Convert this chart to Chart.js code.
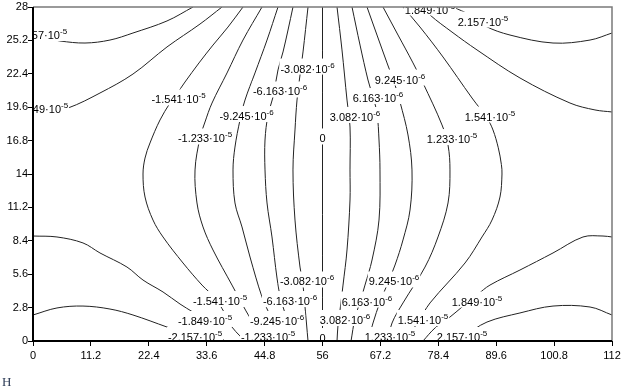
<!DOCTYPE html>
<html>
<head>
<meta charset="utf-8">
<script src="https://cdn.jsdelivr.net/npm/chart.js@4.4.1/dist/chart.umd.min.js"></script>
<style>
  body { margin: 0; background: #fff; }
  canvas { display: block; }
</style>
</head>
<body>
<canvas id="contour" width="624" height="390"></canvas>
<script>
  // Axis ticks
  const xTickValues = [0, 11.2, 22.4, 33.6, 44.8, 56, 67.2, 78.4, 89.6, 100.8, 112];
  const xTickLabels = ["0", "11.2", "22.4", "33.6", "44.8", "56", "67.2", "78.4", "89.6", "100.8", "112"];
  const yTickValues = [0, 2.8, 5.6, 8.4, 11.2, 14, 16.8, 19.6, 22.4, 25.2, 28];
  const yTickLabels = ["0", "2.8", "5.6", "8.4", "11.2", "14", "16.8", "19.6", "22.4", "25.2", "28"];

  // Isolines as [x, y] pairs
  const negLevel2157Top = [[0, 25.57], [2.32, 25.40], [5.22, 25.15], [10.06, 24.98], [14.89, 25.23], [19.34, 25.82], [25.92, 26.83], [30.95, 28]];
  const negLevel2157Bottom = [[0, 2.18], [4.64, 2.77], [9.67, 2.93], [14.89, 2.68], [19.34, 2.18], [25.92, 1.17], [31.34, 0.34], [33.27, 0]];
  const negLevel1849Top = [[0, 19.2], [3.29, 19.28], [6.77, 19.53], [12.96, 20.79], [19.34, 22.38], [25.92, 24.65], [32.30, 26.57], [36.56, 28]];
  const negLevel1849Bottom = [[0, 8.80], [4.64, 8.72], [9.67, 8.22], [12.96, 7.38], [18.18, 6.20], [21.28, 5.11], [25.15, 4.11], [28.44, 3.10], [33.27, 1.76], [35.79, 0.75], [36.95, 0]];
  const negLevel1541 = [[40.62, 28], [37.72, 26.32], [34.82, 24.81], [32.11, 23.31], [29.40, 21.71], [27.66, 20.62], [26.50, 19.95], [24.57, 18.53], [22.63, 16.60], [21.67, 15.34], [21.28, 14.0], [21.67, 12.07], [23.21, 10.14], [25.15, 8.72], [29.02, 6.54], [32.69, 4.69], [35.21, 3.60], [36.95, 2.43], [38.49, 1.17], [40.04, 0.42], [40.82, 0]];
  const negLevel1233 = [[44.30, 28], [40.62, 25.23], [37.53, 22.47], [34.63, 19.95], [33.27, 18.36], [32.30, 17.02], [31.34, 14.34], [31.72, 11.57], [32.89, 9.56], [34.82, 7.63], [38.49, 4.69], [40.04, 3.44], [41.20, 2.52], [42.36, 1.59], [43.52, 0]];
  const negLevel9245 = [[47.39, 28], [45.27, 25.23], [42.94, 22.47], [41.01, 20.20], [40.04, 18.53], [39.07, 16.26], [38.69, 14.34], [39.07, 11.57], [40.43, 9.56], [41.98, 7.04], [44.30, 3.69], [46.04, 1.93], [47.58, 0]];
  const negLevel6163 = [[50.29, 28], [49.33, 26.07], [48.36, 24.23], [47.39, 22.72], [46.43, 20.45], [45.46, 18.95], [44.88, 16.85], [44.88, 14.34], [45.27, 11.57], [46.23, 8.72], [47.20, 5.28], [47.97, 3.44], [49.33, 1.59], [50.49, 0]];
  const negLevel3082 = [[53.20, 28], [52.23, 24.23], [51.65, 22.30], [51.07, 20.20], [50.68, 17.69], [50.29, 14.34], [50.68, 10.14], [51.65, 6.20], [52.23, 4.69], [52.62, 2.85], [53.20, 0]];
  const zeroLevel = [[56, 28], [56, 0]];
  const posLevel3082 = [[58.81, 28], [59.77, 24.40], [60.74, 20.20], [61.32, 17.94], [61.32, 14.34], [61.32, 11.82], [60.74, 7.63], [59.97, 4.69], [59.39, 2.60], [59.00, 1.34], [58.81, 0]];
  const posLevel6163 = [[61.71, 28], [63.26, 24.81], [64.80, 21.88], [65.77, 20.45], [66.54, 19.11], [66.93, 16.85], [67.12, 14.34], [66.93, 10.14], [65.58, 6.79], [64.22, 4.69], [63.26, 3.27], [62.29, 1.93], [61.52, 0]];
  const posLevel9245 = [[64.61, 28], [66.54, 25.65], [68.48, 23.31], [70.03, 21.46], [70.99, 20.04], [72.54, 17.27], [73.31, 14.34], [72.93, 10.98], [71.57, 8.47], [70.03, 6.37], [68.48, 4.69], [67.12, 3.27], [65.77, 1.51], [64.80, 0]];
  const posLevel1233 = [[67.70, 28], [70.61, 25.65], [73.51, 23.31], [75.44, 21.63], [79.12, 18.11], [80.28, 16.43], [80.66, 14.34], [80.28, 11.57], [78.34, 8.72], [75.83, 6.20], [71.57, 3.19], [69.45, 1.51], [68.67, 0]];
  const posLevel1541 = [[71.57, 28], [74.86, 26.32], [79.31, 23.81], [84.92, 20.37], [87.82, 18.69], [88.98, 17.69], [90.0, 16.2], [90.6, 14.8], [90.72, 14.0], [90.33, 12.07], [88.79, 10.14], [86.85, 8.72], [83.57, 6.54], [76.80, 3.19], [74.48, 1.59], [71.96, 0]];
  const posLevel1849Top = [[75.64, 28], [76.80, 27.33], [81.05, 25.90], [85.89, 24.40], [94.20, 22.05], [103.87, 19.95], [108.71, 19.37], [112, 19.20]];
  const posLevel1849Bottom = [[112, 8.72], [110.26, 8.80], [106.39, 8.72], [100.59, 7.38], [94.20, 5.95], [88.40, 4.69], [85.89, 3.86], [82.99, 2.85], [80.66, 2.01], [77.76, 1.09], [75.44, 0]];
  const posLevel2157Top = [[81.24, 28], [84.53, 27.33], [87.43, 26.41], [92.27, 25.65], [100.59, 24.98], [107.75, 25.23], [112, 25.82]];
  const posLevel2157Bottom = [[112, 2.18], [107.75, 2.85], [100.59, 2.93], [94.20, 2.35], [87.82, 1.59], [82.99, 0.34], [81.05, 0]];

  const isolines = [
    negLevel2157Top, negLevel2157Bottom, negLevel1849Top, negLevel1849Bottom,
    negLevel1541, negLevel1233, negLevel9245, negLevel6163, negLevel3082,
    zeroLevel,
    posLevel3082, posLevel6163, posLevel9245, posLevel1233, posLevel1541,
    posLevel1849Top, posLevel1849Bottom, posLevel2157Top, posLevel2157Bottom,
  ];

  // Level labels: where they sit, mantissa and power of ten
  const labelX = [1.35, 1.55, 28.15, 33.27, 41.30, 47.78, 53.10, 56.0, 62.29, 66.74, 70.99, 81.05, 88.40, 76.80, 87.05,
                  53.00, 36.17, 49.71, 33.27, 47.20, 31.34, 45.46, 56.0, 69.83, 64.61, 60.35, 75.44, 85.89, 69.06, 82.99];
  const labelY = [25.65, 19.41, 20.25, 16.98, 18.86, 20.92, 22.84, 16.98, 18.78, 20.37, 21.92, 16.93, 18.82, 27.79, 26.78,
                  4.99, 3.35, 3.35, 1.68, 1.68, 0.34, 0.34, 0.25, 4.99, 3.31, 1.76, 1.76, 3.31, 0.34, 0.34];
  const labelText = ["-2.157", "-1.849", "-1.541", "-1.233", "-9.245", "-6.163", "-3.082", "0", "3.082", "6.163", "9.245", "1.233", "1.541", "1.849", "2.157",
                     "-3.082", "-1.541", "-6.163", "-1.849", "-9.245", "-2.157", "-1.233", "0", "9.245", "6.163", "3.082", "1.541", "1.849", "1.233", "2.157"];
  const labelExp = ["-5", "-5", "-5", "-5", "-6", "-6", "-6", "", "-6", "-6", "-6", "-5", "-5", "-5", "-5",
                    "-6", "-5", "-6", "-5", "-6", "-5", "-5", "", "-6", "-6", "-6", "-5", "-5", "-5", "-5"];

  const FONT = "'Liberation Sans', Arial, sans-serif";

  // Labels sit on white boxes that cut the isolines
  const levelLabels = {
    id: "levelLabels",
    afterDatasetsDraw(chart) {
      const { ctx, chartArea, scales } = chart;
      ctx.save();
      ctx.beginPath();
      ctx.rect(chartArea.left, chartArea.top, chartArea.right - chartArea.left, chartArea.bottom - chartArea.top);
      ctx.clip();
      ctx.textAlign = "left";
      ctx.textBaseline = "alphabetic";
      labelX.forEach((lx, i) => {
        const px = scales.x.getPixelForValue(lx);
        const py = scales.y.getPixelForValue(labelY[i]);
        const main = labelExp[i] ? labelText[i] + "\u00b710" : labelText[i];
        ctx.font = "11px " + FONT;
        const w1 = ctx.measureText(main).width;
        ctx.font = "8px " + FONT;
        const w2 = labelExp[i] ? ctx.measureText(labelExp[i]).width : 0;
        const x0 = px - (w1 + w2) / 2;
        const base = py + 4;
        ctx.fillStyle = "#fff";
        ctx.fillRect(x0 - 1, base - 14, w1 + w2 + 2, 16);
        ctx.fillStyle = "#000";
        ctx.font = "11px " + FONT;
        ctx.fillText(main, x0, base);
        if (labelExp[i]) {
          ctx.font = "8px " + FONT;
          ctx.fillText(labelExp[i], x0 + w1, base - 5);
        }
      });
      ctx.restore();
    },
  };

  // Frame: grey top/right, black axes left/bottom, and the little "H" mark
  const frame = {
    id: "frame",
    afterDraw(chart) {
      const { ctx, chartArea: a } = chart;
      ctx.save();
      ctx.strokeStyle = "#7a7a7a";
      ctx.lineWidth = 1.5;
      ctx.beginPath();
      ctx.moveTo(a.left, a.top);
      ctx.lineTo(a.right, a.top);
      ctx.lineTo(a.right, a.bottom);
      ctx.stroke();
      ctx.strokeStyle = "#000";
      ctx.lineWidth = 2;
      ctx.beginPath();
      ctx.moveTo(a.left, a.top);
      ctx.lineTo(a.left, a.bottom);
      ctx.lineTo(a.right, a.bottom);
      ctx.stroke();
      ctx.fillStyle = "#2b3a55";
      ctx.font = "13px 'Liberation Serif', serif";
      ctx.textBaseline = "alphabetic";
      ctx.fillText("H", 2, 386);
      ctx.restore();
    },
  };

  const tickFont = { family: FONT, size: 11 };

  new Chart(document.getElementById("contour"), {
    type: "scatter",
    data: {
      datasets: isolines.map((pts) => ({
        data: pts.map(([x, y]) => ({ x, y })),
        showLine: true,
        borderColor: "#222",
        borderWidth: 1,
        pointRadius: 0,
        tension: 0.35,
        fill: false,
      })),
    },
    options: {
      responsive: false,
      animation: false,
      events: [],
      layout: { padding: { top: 7, right: 12, left: 0, bottom: 0 } },
      plugins: { legend: { display: false }, tooltip: { enabled: false } },
      scales: {
        x: {
          type: "linear",
          min: 0,
          max: 112,
          afterFit: (s) => { s.height = 49; },
          afterBuildTicks: (s) => { s.ticks = xTickValues.map((v) => ({ value: v })); },
          ticks: { callback: (v, i) => xTickLabels[i], font: tickFont, color: "#000", padding: 3, maxRotation: 0, autoSkip: false },
          grid: { drawOnChartArea: false, drawTicks: true, tickLength: 5, color: "#000" },
          border: { display: false },
        },
        y: {
          type: "linear",
          min: 0,
          max: 28,
          afterFit: (s) => { s.width = 33; },
          afterBuildTicks: (s) => { s.ticks = yTickValues.map((v) => ({ value: v })); },
          ticks: { callback: (v, i) => yTickLabels[i], font: tickFont, color: "#000", padding: 0, autoSkip: false },
          grid: { drawOnChartArea: false, drawTicks: true, tickLength: 5, color: "#000" },
          border: { display: false },
        },
      },
    },
    plugins: [levelLabels, frame],
  });
</script>
</body>
</html>
